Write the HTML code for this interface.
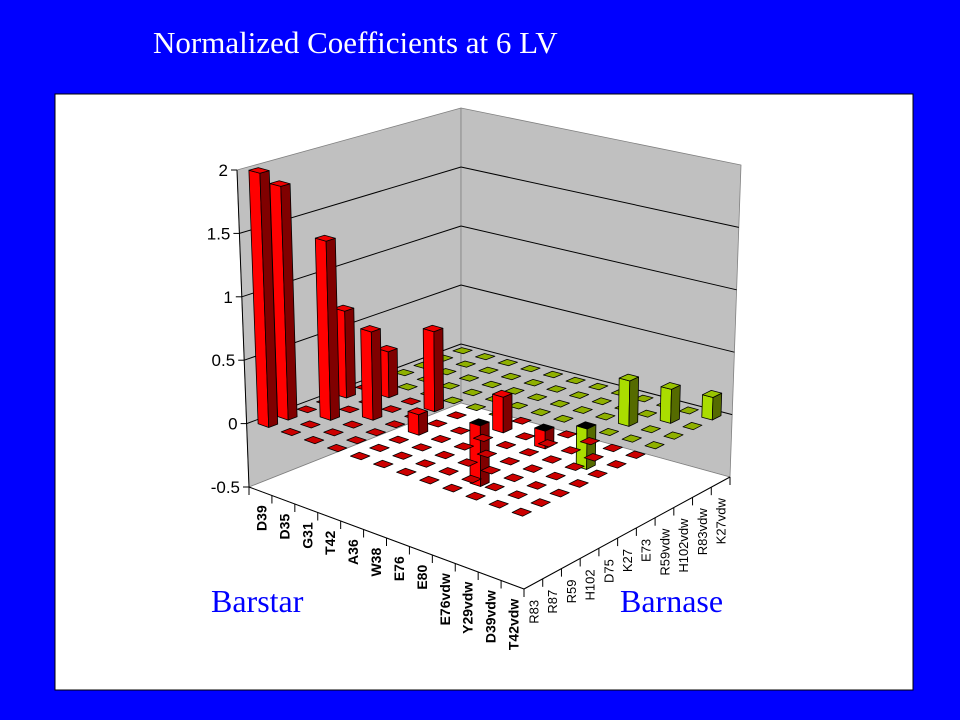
<!DOCTYPE html>
<html><head><meta charset="utf-8"><style>
html,body{margin:0;padding:0;background:#0000ff;}
svg{display:block;}
text{font-family:"Liberation Sans",Arial,sans-serif;}
</style></head><body>
<svg id="chart" width="960" height="720" viewBox="0 0 960 720">
<rect x="0" y="0" width="960" height="720" fill="#0000ff"/>
<text x="153" y="53" fill="#ffffff" font-size="31" style="font-family:'Liberation Serif',serif">Normalized Coefficients at 6 LV</text>
<rect x="55" y="94" width="858" height="596" fill="#ffffff" stroke="#000" stroke-width="1"/>
<g id="plot"></g>
<text x="211" y="612" fill="#0000ff" font-size="32" style="font-family:'Liberation Serif',serif">Barstar</text>
<text x="620" y="612" fill="#0000ff" font-size="32" style="font-family:'Liberation Serif',serif">Barnase</text>
</svg>
<script>
const barstarLabels = ["D39","D35","G31","T42","A36","W38","E76","E80","E76vdw","Y29vdw","D39vdw","T42vdw"];
const barnaseLabels = ["R83","R87","R59","H102","D75","K27","E73","R59vdw","H102vdw","R83vdw","K27vdw"];
const yTicks = [-0.5, 0, 0.5, 1, 1.5, 2];
const yTickLabels = ["-0.5","0","0.5","1","1.5","2"];
const barRows = [0,0,1,0,2,1,3,4,6,5,7,8,9,10,11];
const barCols = [0,1,2,4,3,5,5,3,5,5,6,7,8,9,10];
const barValues = [2.0,1.85,1.42,0.7,0.7,0.37,0.64,0.16,0.28,-0.48,-0.14,-0.32,0.36,0.27,0.18];

const NS="http://www.w3.org/2000/svg";
const plot=document.getElementById('plot');
const zMin=-0.5, zMax=2;
const botQ={L:[249,487],F:[524,589],R:[730,477],B:[461,403]};
const topQ={L:[237,170],F:[523,249],R:[741,165],B:[461,108]};
function bil(q,u,v){
  return [(1-u)*(1-v)*q.L[0]+u*(1-v)*q.F[0]+u*v*q.R[0]+(1-u)*v*q.B[0],
          (1-u)*(1-v)*q.L[1]+u*(1-v)*q.F[1]+u*v*q.R[1]+(1-u)*v*q.B[1]];
}
function P(u,v,z){
  const t=(z-zMin)/(zMax-zMin);
  const a=bil(botQ,u,v), b=bil(topQ,u,v);
  return [a[0]+(b[0]-a[0])*t, a[1]+(b[1]-a[1])*t];
}
function pts(arr){return arr.map(p=>p[0].toFixed(1)+','+p[1].toFixed(1)).join(' ');}
function poly(points,fill,stroke,name){
  const e=document.createElementNS(NS,'polygon');
  e.setAttribute('points',pts(points));
  e.setAttribute('fill',fill);
  e.setAttribute('stroke',stroke);
  e.setAttribute('stroke-width','0.8');
  e.setAttribute('stroke-linejoin','round');
  
  
  plot.appendChild(e);
  return e;
}
function line(a,b,stroke,name,w){
  const e=document.createElementNS(NS,'line');
  e.setAttribute('x1',a[0]);e.setAttribute('y1',a[1]);
  e.setAttribute('x2',b[0]);e.setAttribute('y2',b[1]);
  e.setAttribute('stroke',stroke);e.setAttribute('stroke-width',w||1);
  
  
  plot.appendChild(e);
}
function text(x,y,str,size,weight,rot,anchor,name){
  const e=document.createElementNS(NS,'text');
  e.setAttribute('x',x);e.setAttribute('y',y);
  e.setAttribute('font-size',size);
  if(weight)e.setAttribute('font-weight',weight);
  e.setAttribute('text-anchor',anchor||'start');
  if(rot)e.setAttribute('transform','rotate('+rot+' '+x+' '+y+')');
  e.textContent=str;
  
  
  plot.appendChild(e);
}
// walls
poly([P(0,0,zMin),P(0,0,zMax),P(0,1,zMax),P(0,1,zMin)],'#c0c0c0','#808080','back-left-wall');
poly([P(0,1,zMin),P(0,1,zMax),P(1,1,zMax),P(1,1,zMin)],'#c0c0c0','#808080','back-right-wall');
poly([P(0,0,zMin),P(1,0,zMin),P(1,1,zMin),P(0,1,zMin)],'#ffffff','#808080','floor');
// gridlines
yTicks.forEach((z,k)=>{
  if(z>zMin && z<zMax){
    line(P(0,0,z),P(0,1,z),'#000','gridline-'+yTickLabels[k]);
    line(P(0,1,z),P(1,1,z),'#000','gridline-right-'+yTickLabels[k]);
  }
  const a=P(0,0,z);
  line([a[0]-6,a[1]],a,'#000','y-tick-'+yTickLabels[k]);
  text(a[0]-9,a[1]+6,yTickLabels[k],17,null,0,'end','y-tick-label');
});
line(P(0,0,zMin),P(0,0,zMax),'#000','y-axis-line');
// floor axes
line(P(0,0,zMin),P(1,0,zMin),'#000','barstar-axis');
line(P(1,0,zMin),P(1,1,zMin),'#000','barnase-axis');
const nR=barstarLabels.length, nC=barnaseLabels.length;
for(let i=0;i<=nR;i++){const a=P(i/nR,0,zMin);line(a,[a[0],a[1]+8],'#000','barstar-tick');}
for(let j=0;j<=nC;j++){const a=P(1,j/nC,zMin);line(a,[a[0],a[1]+8],'#000','barnase-tick');}
barstarLabels.forEach((s,i)=>{
  const a=P((i+0.5)/nR,0,zMin);
  text(a[0]+6,a[1]+14,s,14,'bold',-90,'end','barstar-tick-label');
});
barnaseLabels.forEach((s,j)=>{
  const a=P(1,(j+0.5)/nC,zMin);
  text(a[0]+5,a[1]+16,s,13,null,-90,'end','barnase-tick-label');
});
// bars
const val={};
barRows.forEach((r,k)=>{val[r+'_'+barCols[k]]=barValues[k];});
const cells=[];
for(let i=0;i<nR;i++)for(let j=0;j<nC;j++)cells.push([i,j]);
cells.sort((a,b)=>(a[0]-a[1])-(b[0]-b[1]) || (a[0]-b[0]));
const hw=0.23;
cells.forEach(([i,j])=>{
  const v=val[i+'_'+j]||0;
  const green = j >= (i<6?6:7);
  const cTop=green?'#8fb000':'#cc0000', cL=green?'#aadd00':'#ff0000', cR=green?'#556b00':'#800000';
  const u0=(i+0.5-hw)/nR,u1=(i+0.5+hw)/nR,v0=(j+0.5-hw)/nC,v1=(j+0.5+hw)/nC;
  const name=barstarLabels[i]+'-'+barnaseLabels[j];
  if(v===0){
    poly([P(u0,v0,0),P(u1,v0,0),P(u1,v1,0),P(u0,v1,0)],cTop,'#000','marker-'+name);
    return;
  }
  const z0=Math.min(0,v), z1=Math.max(0,v);
  poly([P(u0,v0,z0),P(u1,v0,z0),P(u1,v0,z1),P(u0,v0,z1)],cL,'#000','bar-front-'+name);
  poly([P(u1,v0,z0),P(u1,v1,z0),P(u1,v1,z1),P(u1,v0,z1)],cR,'#000','bar-side-'+name);
  poly([P(u0,v0,z1),P(u1,v0,z1),P(u1,v1,z1),P(u0,v1,z1)],v<0?'#000':(green?'#99c400':'#ee0000'),'#000','bar-top-'+name);
});
</script>
</body></html>
